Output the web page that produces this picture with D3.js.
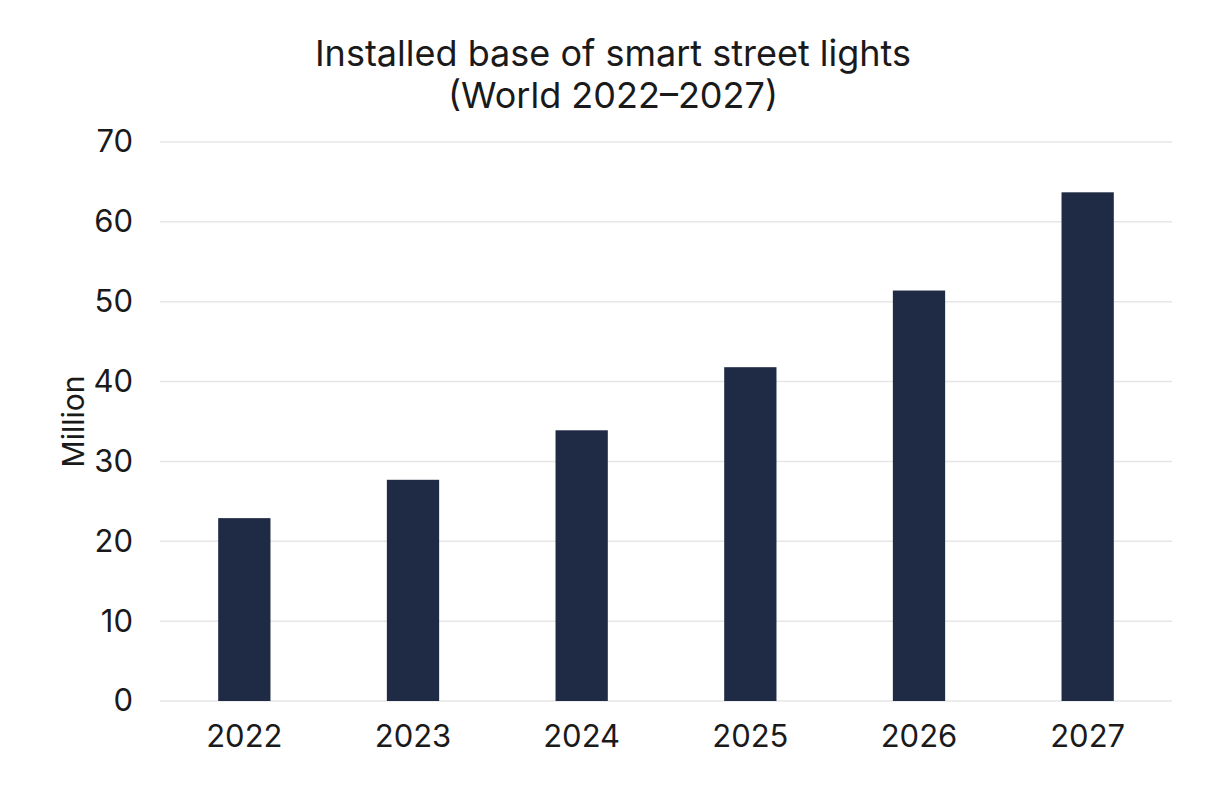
<!DOCTYPE html>
<html>
<head>
<meta charset="utf-8">
<script src="https://cdn.jsdelivr.net/npm/d3@7"></script>
<style>
  html, body { margin: 0; padding: 0; background: #fff; }
  svg { display: block; }
  text { font-family: Inter, "Noto Sans", sans-serif; fill: #1a1a1a; }
</style>
</head>
<body>
<svg id="chart"></svg>
<script>
const years = ["2022", "2023", "2024", "2025", "2026", "2027"];
const installed = [22.9, 27.7, 33.9, 41.8, 51.4, 63.7];
const yTicks = [0, 10, 20, 30, 40, 50, 60, 70];
const titleLines = ["Installed base of smart street lights", "(World 2022\u20132027)"];

const width = 1210;
const height = 796;
const margin = { top: 142, right: 38, bottom: 95, left: 160 };

const svg = d3.select("#chart")
  .attr("width", width)
  .attr("height", height)
  .attr("viewBox", `0 0 ${width} ${height}`);

const x = d3.scaleBand()
  .domain(years)
  .range([margin.left, width - margin.right])
  .paddingInner(0.69)
  .paddingOuter(0.345);

const y = d3.scaleLinear()
  .domain([0, 70])
  .range([height - margin.bottom, margin.top]);

// Title
svg.append("g")
  .selectAll("text")
  .data(titleLines)
  .join("text")
  .attr("x", 613)
  .attr("y", (d, i) => 66 + i * 42)
  .attr("text-anchor", "middle")
  .attr("font-size", 36)
  .text(d => d);

// Grid lines
svg.append("g")
  .selectAll("line")
  .data(yTicks)
  .join("line")
  .attr("x1", margin.left)
  .attr("x2", width - margin.right)
  .attr("y1", d => y(d))
  .attr("y2", d => y(d))
  .attr("stroke", "#e6e6e6")
  .attr("stroke-width", 1.5);

// Y axis
const yAxis = svg.append("g")
  .attr("transform", `translate(${margin.left},0)`)
  .call(d3.axisLeft(y).tickValues(yTicks).tickSize(0).tickPadding(27));
yAxis.select(".domain").remove();
yAxis.selectAll("text")
  .attr("font-size", 31)
  .attr("font-family", "Inter, 'Noto Sans', sans-serif")
  .attr("fill", "#1a1a1a");

// X axis
const xAxis = svg.append("g")
  .attr("transform", `translate(0,${y(0)})`)
  .call(d3.axisBottom(x).tickSize(0).tickPadding(24));
xAxis.select(".domain").remove();
xAxis.selectAll("text")
  .attr("font-size", 31)
  .attr("font-family", "Inter, 'Noto Sans', sans-serif")
  .attr("fill", "#1a1a1a");

// Y label
svg.append("text")
  .attr("transform", `translate(84,${(y(0) + y(70)) / 2}) rotate(-90)`)
  .attr("text-anchor", "middle")
  .attr("font-size", 30)
  .text("Million");

// Bars
svg.append("g")
  .selectAll("rect")
  .data(years.map((yr, i) => ({ yr, v: installed[i] })))
  .join("rect")
  .attr("x", d => x(d.yr))
  .attr("y", d => y(d.v))
  .attr("width", x.bandwidth())
  .attr("height", d => y(0) - y(d.v))
  .attr("fill", "#1f2a44");
</script>
</body>
</html>
